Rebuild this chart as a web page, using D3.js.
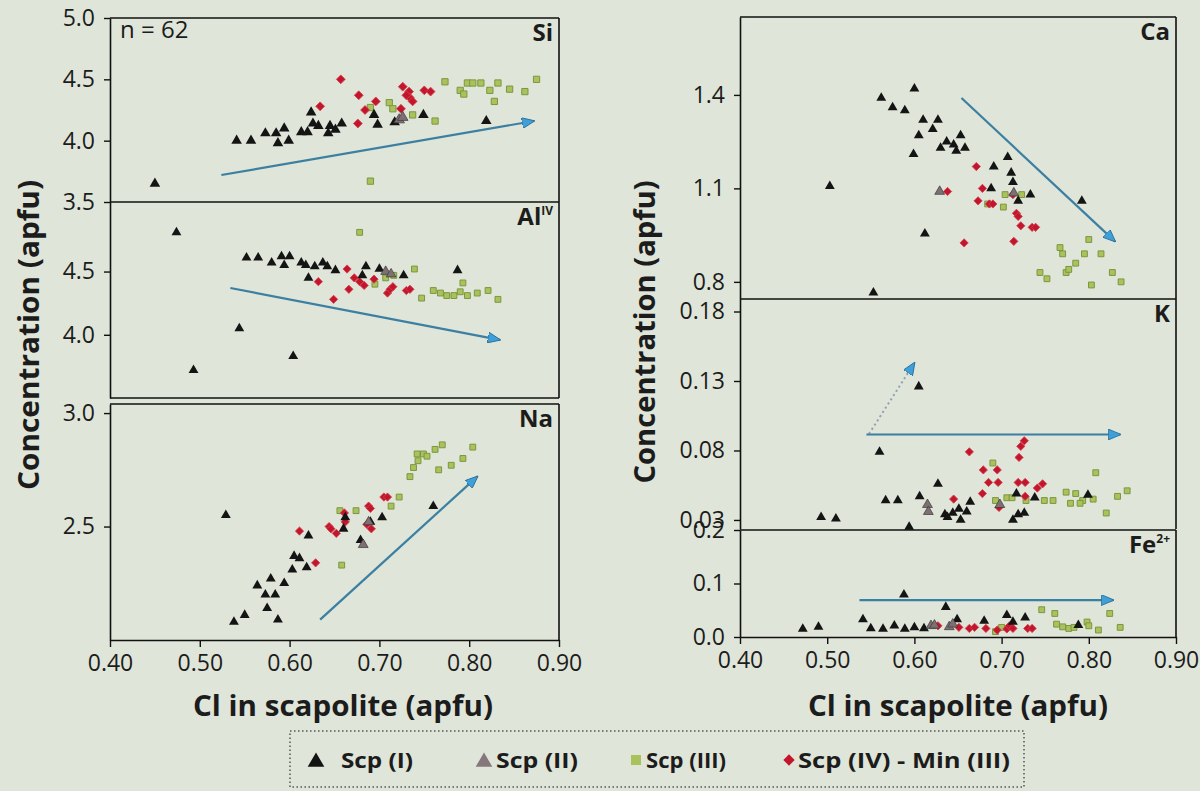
<!DOCTYPE html>
<html><head><meta charset="utf-8">
<script src="https://cdn.jsdelivr.net/npm/d3@7"></script>
<style>
html,body{margin:0;padding:0;background:#dfe5d8;}
svg{display:block;}
text{font-family:"Open Sans",sans-serif;fill:#1c1c1c;}
</style></head>
<body>
<svg id="chart" width="1200" height="791"></svg>
<script>
// ---------- data ----------
const xTicks = [0.40, 0.50, 0.60, 0.70, 0.80, 0.90];
const seriesNames = ["Scp (I)", "Scp (II)", "Scp (III)", "Scp (IV) - Min (III)"];

// Si
const siScp1 = [[0.450,3.65],[0.541,4.00],[0.557,4.00],[0.573,4.06],[0.585,4.06],[0.587,3.98],[0.594,4.10],[0.599,4.00],[0.613,4.07],[0.620,4.07],[0.624,4.23],[0.626,4.14],[0.632,4.12],[0.643,4.06],[0.645,4.12],[0.651,4.09],[0.658,4.14],[0.694,4.21],[0.698,4.13],[0.717,4.15],[0.749,4.21],[0.819,4.16]];
const siScp2 = [[0.722,4.17],[0.726,4.19]];
const siScp3 = [[0.690,3.67],[0.690,4.27],[0.711,4.31],[0.715,4.26],[0.737,4.21],[0.762,4.16],[0.773,4.48],[0.790,4.41],[0.794,4.38],[0.798,4.47],[0.804,4.47],[0.813,4.47],[0.823,4.41],[0.828,4.32],[0.832,4.47],[0.845,4.42],[0.862,4.40],[0.875,4.50]];
const siScp4 = [[0.657,4.50],[0.634,4.28],[0.677,4.37],[0.676,4.14],[0.684,4.25],[0.696,4.32],[0.724,4.26],[0.726,4.44],[0.733,4.40],[0.734,4.35],[0.737,4.32],[0.730,4.37],[0.750,4.41],[0.757,4.40]];
const siArrow = [[0.524,3.72],[0.872,4.16]];

// Al IV
const alScp1 = [[0.474,4.81],[0.493,3.72],[0.544,4.05],[0.552,4.61],[0.565,4.61],[0.580,4.57],[0.591,4.62],[0.594,4.55],[0.600,4.62],[0.604,3.83],[0.613,4.57],[0.618,4.55],[0.621,4.45],[0.628,4.54],[0.637,4.57],[0.642,4.54],[0.651,4.51],[0.685,4.54],[0.681,4.47],[0.700,4.52],[0.727,4.47],[0.787,4.51]];
const alScp2 = [[0.707,4.50],[0.713,4.48]];
const alScp3 = [[0.678,4.81],[0.695,4.40],[0.707,4.45],[0.716,4.47],[0.739,4.52],[0.747,4.29],[0.760,4.35],[0.768,4.33],[0.775,4.31],[0.783,4.31],[0.790,4.34],[0.793,4.41],[0.798,4.31],[0.809,4.33],[0.821,4.35],[0.832,4.28]];
const alScp4 = [[0.649,4.28],[0.664,4.52],[0.666,4.36],[0.672,4.45],[0.678,4.42],[0.683,4.39],[0.694,4.44],[0.709,4.33],[0.712,4.36],[0.715,4.38],[0.730,4.35],[0.734,4.36],[0.632,4.42]];
const alArrow = [[0.534,4.37],[0.834,3.96]];

// Na
const naScp1 = [[0.529,2.55],[0.538,2.08],[0.550,2.11],[0.564,2.24],[0.573,2.20],[0.584,2.20],[0.579,2.27],[0.575,2.14],[0.587,2.09],[0.594,2.25],[0.603,2.31],[0.605,2.37],[0.611,2.36],[0.619,2.32],[0.621,2.46],[0.660,2.49],[0.662,2.54],[0.679,2.44],[0.690,2.52],[0.703,2.54],[0.760,2.59]];
const naScp2 = [[0.682,2.42],[0.688,2.52]];
const naScp3 = [[0.658,2.33],[0.656,2.57],[0.674,2.57],[0.713,2.59],[0.722,2.63],[0.734,2.72],[0.738,2.76],[0.743,2.79],[0.742,2.82],[0.749,2.82],[0.753,2.81],[0.762,2.84],[0.770,2.86],[0.766,2.75],[0.780,2.77],[0.793,2.80],[0.804,2.85]];
const naScp4 = [[0.611,2.48],[0.629,2.34],[0.644,2.50],[0.646,2.49],[0.652,2.47],[0.661,2.56],[0.662,2.52],[0.686,2.51],[0.688,2.59],[0.690,2.58],[0.691,2.49],[0.705,2.63],[0.709,2.63]];
const naArrow = [[0.634,2.09],[0.809,2.72]];

// Ca
const caScp1 = [[0.503,1.107],[0.553,0.765],[0.562,1.39],[0.575,1.36],[0.589,1.35],[0.600,1.42],[0.599,1.21],[0.605,1.27],[0.610,1.32],[0.612,0.955],[0.621,1.29],[0.627,1.32],[0.630,1.23],[0.637,1.25],[0.645,1.24],[0.648,1.22],[0.653,1.27],[0.658,1.23],[0.688,1.10],[0.691,1.17],[0.707,1.20],[0.711,1.15],[0.713,1.12],[0.719,1.06],[0.733,1.08],[0.792,1.06]];
const caScp2 = [[0.629,1.09],[0.714,1.085]];
const caScp3 = [[0.702,1.04],[0.704,1.08],[0.723,1.08],[0.684,1.05],[0.744,0.83],[0.752,0.81],[0.767,0.91],[0.770,0.89],[0.774,0.83],[0.777,0.84],[0.785,0.86],[0.795,0.89],[0.800,0.936],[0.803,0.79],[0.814,0.89],[0.827,0.83],[0.837,0.80]];
const caScp4 = [[0.638,1.09],[0.657,0.925],[0.671,1.17],[0.673,1.06],[0.678,1.10],[0.686,1.05],[0.690,1.05],[0.713,1.08],[0.714,0.93],[0.717,1.02],[0.719,1.01],[0.722,0.98],[0.735,0.975],[0.739,0.975]];
const caArrow = [[0.654,1.39],[0.830,0.93]];

// K
const kScp1 = [[0.493,0.032],[0.510,0.031],[0.560,0.079],[0.567,0.044],[0.581,0.044],[0.594,0.025],[0.605,0.126],[0.606,0.047],[0.627,0.056],[0.635,0.034],[0.638,0.032],[0.644,0.035],[0.651,0.038],[0.653,0.030],[0.660,0.036],[0.664,0.043],[0.713,0.030],[0.719,0.034],[0.726,0.035],[0.717,0.049],[0.738,0.046],[0.799,0.048]];
const kScp2 = [[0.615,0.041],[0.616,0.036],[0.698,0.041]];
const kScp3 = [[0.690,0.071],[0.693,0.044],[0.706,0.046],[0.712,0.046],[0.728,0.044],[0.749,0.044],[0.759,0.044],[0.774,0.050],[0.779,0.042],[0.785,0.049],[0.793,0.044],[0.790,0.042],[0.805,0.045],[0.808,0.064],[0.820,0.035],[0.833,0.047],[0.844,0.051]];
const kScp4 = [[0.645,0.045],[0.663,0.079],[0.678,0.049],[0.679,0.066],[0.685,0.057],[0.695,0.066],[0.696,0.057],[0.697,0.039],[0.720,0.075],[0.722,0.083],[0.726,0.087],[0.719,0.057],[0.727,0.057],[0.727,0.047],[0.741,0.053],[0.747,0.056]];
const kArrow = [[0.545,0.0915],[0.836,0.0915]];
const kArrowDotted = [[0.548,0.092],[0.600,0.143]];

// Fe2+
const feScp1 = [[0.472,0.015],[0.490,0.019],[0.541,0.033],[0.550,0.016],[0.564,0.015],[0.577,0.021],[0.588,0.079],[0.589,0.015],[0.600,0.018],[0.611,0.016],[0.636,0.056],[0.649,0.033],[0.680,0.030],[0.706,0.041],[0.713,0.028],[0.727,0.036],[0.788,0.022]];
const feScp2 = [[0.619,0.021],[0.623,0.022],[0.640,0.019],[0.644,0.024]];
const feScp3 = [[0.746,0.051],[0.761,0.044],[0.763,0.024],[0.770,0.019],[0.777,0.016],[0.783,0.018],[0.798,0.028],[0.800,0.021],[0.811,0.013],[0.824,0.044],[0.836,0.018],[0.693,0.010],[0.700,0.018]];
const feScp4 = [[0.627,0.021],[0.651,0.018],[0.663,0.016],[0.669,0.018],[0.682,0.016],[0.706,0.015],[0.709,0.021],[0.713,0.016],[0.730,0.016],[0.735,0.016],[0.695,0.013]];
const feArrow = [[0.537,0.069],[0.828,0.069]];

// ---------- drawing ----------
const svg = d3.select("#chart");
const COL = {s1:"#141414", s2:"#7e6f73", s3:"#a9c25c", s3s:"#7d9640", s4:"#c3152c", line:"#3b7fa2", head:"#3f9fd8"};

const defs = svg.append("defs");
defs.append("marker").attr("id","ah").attr("viewBox","0 0 12 10").attr("refX",11).attr("refY",5)
  .attr("markerWidth",13).attr("markerHeight",11).attr("markerUnits","userSpaceOnUse").attr("orient","auto")
  .append("path").attr("d","M0,0 L12,5 L0,10 Z").attr("fill",COL.head).attr("stroke","#2b6d96").attr("stroke-width",0.8);

const xLeft = d3.scaleLinear().domain([0.4,0.9]).range([110,559]);
const xRight = d3.scaleLinear().domain([0.4,0.9]).range([740,1176]);

const panels = [
  {x:xLeft, top:18, bottom:202, domain:[3.5,5.0], ticks:[3.5,4.0,4.5,5.0], fmt:".1f", data:[siScp1,siScp2,siScp3,siScp4], arrows:[siArrow], label:"Si", sup:"", n:true, ms:1.15},
  {x:xLeft, top:202, bottom:398, domain:[3.5,5.05], ticks:[4.0,4.5], fmt:".1f", data:[alScp1,alScp2,alScp3,alScp4], arrows:[alArrow], label:"Al", sup:"IV", bottomLine:true},
  {x:xLeft, top:404, bottom:640, domain:[2.0,3.04], ticks:[2.5,3.0], fmt:".1f", data:[naScp1,naScp2,naScp3,naScp4], arrows:[naArrow], label:"Na", sup:"", xAxis:true},
  {x:xRight, top:17, bottom:299, domain:[0.745,1.65], ticks:[0.8,1.1,1.4], fmt:".1f", data:[caScp1,caScp2,caScp3,caScp4], arrows:[caArrow], label:"Ca", sup:""},
  {x:xRight, top:299, bottom:529, domain:[0.0235,0.189], ticks:[0.03,0.08,0.13,0.18], fmt:".2f", data:[kScp1,kScp2,kScp3,kScp4], arrows:[kArrow], dotted:[kArrowDotted], label:"K", sup:""},
  {x:xRight, top:530, bottom:637, domain:[0,0.2], ticks:[0.0,0.1,0.2], fmt:".1f", data:[feScp1,feScp2,feScp3,feScp4], arrows:[feArrow], label:"Fe", sup:"2+", xAxis:true}
];

const triangle = d3.symbol().type(d3.symbolTriangle);
const square = d3.symbol().type(d3.symbolSquare);

panels.forEach(p => {
  const x = p.x;
  const y = d3.scaleLinear().domain(p.domain).range([p.bottom, p.top]);
  const [x0,x1] = x.range();
  const g = svg.append("g");
  const ms = p.ms || 1;

  // borders
  g.append("line").attr("x1",x0).attr("x2",x1).attr("y1",p.top).attr("y2",p.top).attr("stroke","#111").attr("stroke-width",1.6);
  g.append("line").attr("x1",x1).attr("x2",x1).attr("y1",p.top).attr("y2",p.bottom).attr("stroke","#111").attr("stroke-width",1.6);
  if (p.bottomLine) g.append("line").attr("x1",x0).attr("x2",x1).attr("y1",p.bottom).attr("y2",p.bottom).attr("stroke","#111").attr("stroke-width",1.6);

  // y axis
  const ya = g.append("g").attr("transform",`translate(${x0},0)`)
    .call(d3.axisLeft(y).tickValues(p.ticks).tickFormat(d3.format(p.fmt)).tickSize(6).tickSizeOuter(0).tickPadding(9));
  ya.select(".domain").attr("stroke","#111").attr("stroke-width",1.6);
  ya.selectAll(".tick line").attr("stroke","#111").attr("stroke-width",1.4);
  ya.selectAll("text").style("font-size","23px").style("font-family","'Open Sans',sans-serif").attr("fill","#1c1c1c");

  if (p.xAxis) {
    const xa = g.append("g").attr("transform",`translate(0,${p.bottom})`)
      .call(d3.axisBottom(x).tickValues(xTicks).tickFormat(d3.format(".2f")).tickSize(7).tickSizeOuter(0).tickPadding(8));
    xa.select(".domain").attr("stroke","#111").attr("stroke-width",1.6);
    xa.selectAll(".tick line").attr("stroke","#111").attr("stroke-width",1.4);
    xa.selectAll("text").style("font-size","23px").style("font-family","'Open Sans',sans-serif").attr("fill","#1c1c1c");
  }

  // arrows
  (p.dotted||[]).forEach(a => {
    g.append("line").attr("x1",x(a[0][0])).attr("y1",y(a[0][1])).attr("x2",x(a[1][0])).attr("y2",y(a[1][1]))
      .attr("stroke","#8fa3b0").attr("stroke-width",2).attr("stroke-dasharray","2,3").attr("marker-end","url(#ah)");
  });
  p.arrows.forEach(a => {
    g.append("line").attr("x1",x(a[0][0])).attr("y1",y(a[0][1])).attr("x2",x(a[1][0])).attr("y2",y(a[1][1]))
      .attr("stroke",COL.line).attr("stroke-width",2.2).attr("marker-end","url(#ah)");
  });

  // points: Scp III, Scp IV, Scp I, Scp II
  g.selectAll(".s3").data(p.data[2]).join("path")
    .attr("d",square.size(34*ms)()).attr("transform",d=>`translate(${x(d[0])},${y(d[1])})`)
    .attr("fill",COL.s3).attr("stroke",COL.s3s).attr("stroke-width",1);
  g.selectAll(".s4").data(p.data[3]).join("path")
    .attr("d",square.size(34*ms)()).attr("transform",d=>`translate(${x(d[0])},${y(d[1])}) rotate(45)`)
    .attr("fill",COL.s4).attr("stroke","#d2404f").attr("stroke-width",0.8);
  g.selectAll(".s1").data(p.data[0]).join("path")
    .attr("d",triangle.size(42*ms)()).attr("transform",d=>`translate(${x(d[0])},${y(d[1])})`)
    .attr("fill",COL.s1);
  g.selectAll(".s2").data(p.data[1]).join("path")
    .attr("d",triangle.size(42*ms)()).attr("transform",d=>`translate(${x(d[0])},${y(d[1])})`)
    .attr("fill",COL.s2).attr("stroke","#3a3a3a").attr("stroke-width",0.7);

  // panel label
  const t = g.append("text").attr("x",x1-6).attr("y",p.top+23).attr("text-anchor","end")
    .style("font-weight","700").style("font-size","24px");
  t.append("tspan").text(p.label);
  if (p.sup) t.append("tspan").text(p.sup).attr("dy",-10).style("font-size","12px");
  if (p.n) g.append("text").attr("x",x0+10).attr("y",p.top+20).style("font-size","24px").text("n = 62");
});

// axis titles
function title(txt, tx, ty, rot, len){
  svg.append("text").attr("transform",`translate(${tx},${ty}) rotate(${rot})`).attr("text-anchor","middle")
    .attr("textLength",len).attr("lengthAdjust","spacingAndGlyphs")
    .style("font-weight","700").style("font-size","29px").text(txt);
}
title("Concentration (apfu)", 39, 335, -90, 310);
title("Concentration (apfu)", 655, 332, -90, 303);
title("Cl in scapolite (apfu)", 343, 716, 0, 300);
title("Cl in scapolite (apfu)", 958, 716, 0, 300);

// legend
const lg = svg.append("g");
lg.append("rect").attr("x",290).attr("y",731).attr("width",734).attr("height",56)
  .attr("fill","none").attr("stroke","#555").attr("stroke-width",1.5).attr("stroke-dasharray","1.5,2.5");
const ly = 760;
const legendItems = [
  {sym:"tri", fill:COL.s1, sx:316, tx:341, len:72},
  {sym:"tri", fill:"#85777b", sx:484, tx:496, len:82},
  {sym:"sq", fill:COL.s3, sx:636, tx:646, len:80},
  {sym:"dia", fill:COL.s4, sx:789, tx:798, len:212}
];
legendItems.forEach((it,i) => {
  if (it.sym==="tri") lg.append("path").attr("d",triangle.size(120)()).attr("transform",`translate(${it.sx},${ly+2})`).attr("fill",it.fill);
  else if (it.sym==="sq") lg.append("path").attr("d",square.size(100)()).attr("transform",`translate(${it.sx},${ly})`).attr("fill",it.fill);
  else lg.append("path").attr("d",square.size(64)()).attr("transform",`translate(${it.sx},${ly}) rotate(45)`).attr("fill",it.fill);
  lg.append("text").attr("x",it.tx).attr("y",ly+8).attr("textLength",it.len).attr("lengthAdjust","spacingAndGlyphs")
    .style("font-weight","700").style("font-size","22px").text(seriesNames[i]);
});
</script>
</body></html>
